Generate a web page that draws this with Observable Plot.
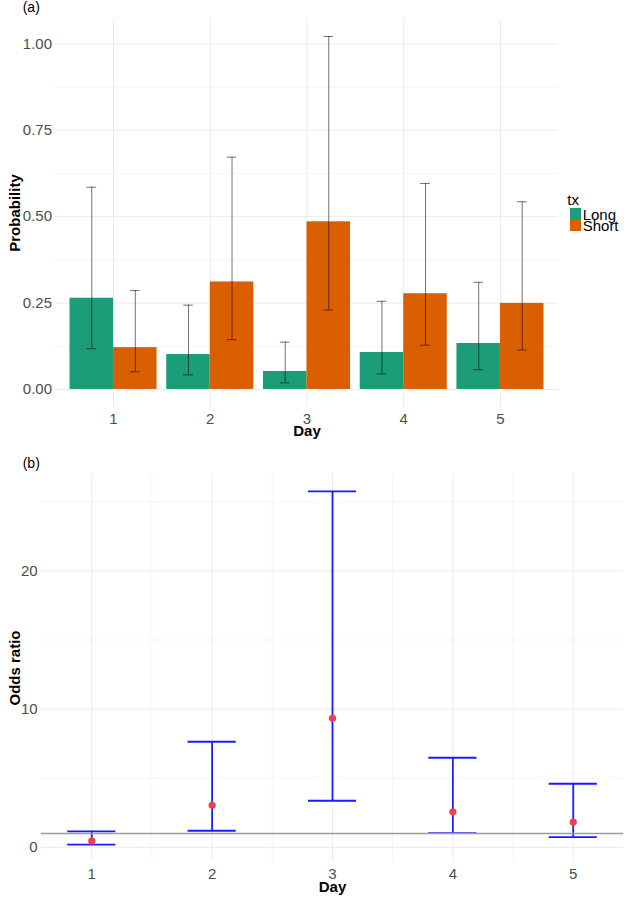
<!DOCTYPE html>
<html>
<head>
<meta charset="utf-8">
<script src="https://cdn.jsdelivr.net/npm/d3@7"></script>
<script src="https://cdn.jsdelivr.net/npm/@observablehq/plot@0.6"></script>
<style>
  body { margin: 0; background: #fff; }
  #wrap { position: relative; width: 629px; height: 900px; font-family: "Liberation Sans", Arial, sans-serif; }
  #wrap svg { position: absolute; left: 0; }
  .lbl { position: absolute; white-space: nowrap; color: #000; }
  .key { position: absolute; width: 11.3px; }
</style>
</head>
<body>
<div id="wrap"></div>
<script>
// ---------- data ----------
const days = [1, 2, 3, 4, 5];
const treatments = ["Long", "Short"];
const treatmentColors = ["#1B9E77", "#D95F02"];

const longProb = [0.264, 0.101, 0.052, 0.107, 0.133];
const longLo   = [0.118, 0.042, 0.019, 0.045, 0.057];
const longHi   = [0.585, 0.244, 0.137, 0.255, 0.310];

const shortProb = [0.121, 0.311, 0.485, 0.277, 0.249];
const shortLo   = [0.051, 0.144, 0.230, 0.128, 0.114];
const shortHi   = [0.286, 0.672, 1.021, 0.596, 0.543];

const oddsRatio = [0.46, 3.04, 9.33, 2.57, 1.83];
const orLo      = [0.20, 1.20, 3.37, 1.03, 0.74];
const orHi      = [1.16, 7.64, 25.75, 6.48, 4.60];
const refLine   = [1];

const probTicks = [0, 0.25, 0.5, 0.75, 1];
const probMinor = [0.125, 0.375, 0.625, 0.875];
const orTicks = [0, 10, 20];
const orMinor = [5, 15, 25];
const dayMinor = [1.5, 2.5, 3.5, 4.5];

// ---------- derived tables ----------
const probRows = days.flatMap((d, i) => [
  {day: d, tx: "Long", p: longProb[i], lo: longLo[i], hi: longHi[i]},
  {day: d, tx: "Short", p: shortProb[i], lo: shortLo[i], hi: shortHi[i]}
]);
const orRows = days.map((d, i) => ({day: d, est: oddsRatio[i], lo: orLo[i], hi: orHi[i]}));

const dodge = {Long: -0.225, Short: 0.225};
const half = 0.225, capA = 0.05, capB = 0.2;
const cx = d => d.day + dodge[d.tx];

const font = '"Liberation Sans", Arial, sans-serif';
const tickFill = "#4d4d4d";
const gridMajor = "#ebebeb", gridMinor = "#f3f3f3";

const wrap = document.getElementById("wrap");

// ---------- panel (a) ----------
const pHi = d3.max(probRows, d => d.hi), pLo = 0;
const pPad = 0.05 * (pHi - pLo);

const plotA = Plot.plot({
  width: 629, height: 445,
  marginLeft: 55, marginRight: 71, marginTop: 18.4, marginBottom: 38.4,
  style: {fontFamily: font, fontSize: "15px", background: "transparent", overflow: "visible"},
  x: {type: "linear", domain: [0.4, 5.6]},
  y: {domain: [pLo - pPad, pHi + pPad]},
  color: {domain: treatments, range: treatmentColors},
  marks: [
    Plot.ruleY(probMinor, {stroke: gridMinor, strokeWidth: 0.8}),
    Plot.ruleY(probTicks, {stroke: gridMajor, strokeWidth: 1}),
    Plot.ruleX(days, {stroke: gridMajor, strokeWidth: 1}),
    Plot.rect(probRows, {x1: d => cx(d) - half, x2: d => cx(d) + half, y1: () => 0, y2: "p", fill: "tx"}),
    Plot.ruleX(probRows, {x: cx, y1: "lo", y2: "hi", stroke: "#000", strokeOpacity: 0.55, strokeWidth: 1}),
    Plot.ruleY(probRows, {y: "hi", x1: d => cx(d) - capA, x2: d => cx(d) + capA, stroke: "#000", strokeOpacity: 0.55, strokeWidth: 1}),
    Plot.ruleY(probRows, {y: "lo", x1: d => cx(d) - capA, x2: d => cx(d) + capA, stroke: "#000", strokeOpacity: 0.55, strokeWidth: 1}),
    Plot.axisX({ticks: days, tickSize: 0, tickPadding: 6, tickFormat: d => String(d), fontSize: 15, fill: tickFill, label: null}),
    Plot.axisY({ticks: probTicks, tickSize: 0, tickPadding: 3.5, tickFormat: d3.format(".2f"), fontSize: 15, fill: tickFill, label: null}),
    Plot.text(["Day"], {frameAnchor: "bottom", lineAnchor: "middle", textAnchor: "middle", dy: 24.5, text: d => d, fontWeight: "bold", fontSize: 15, fill: "#000"}),
    Plot.text(["Probability"], {frameAnchor: "left", lineAnchor: "middle", textAnchor: "middle", rotate: -90, dx: -40, text: d => d, fontWeight: "bold", fontSize: 15, fill: "#000"})
  ]
});
plotA.style.top = "0px";
wrap.appendChild(plotA);

// ---------- panel (b) ----------
const oLo = d3.min(orRows, d => d.lo), oHi = d3.max(orRows, d => d.hi);
const oPad = 0.05 * (oHi - oLo);
const xLo = d3.min(days) - capB, xHi = d3.max(days) + capB;
const xPad = 0.05 * (xHi - xLo);

const plotB = Plot.plot({
  width: 629, height: 455,
  marginLeft: 40.7, marginRight: 5.7, marginTop: 28.3, marginBottom: 38.3,
  style: {fontFamily: font, fontSize: "15px", background: "transparent", overflow: "visible"},
  x: {domain: [xLo - xPad, xHi + xPad]},
  y: {domain: [oLo - oPad, oHi + oPad]},
  marks: [
    Plot.ruleY(orMinor, {stroke: gridMinor, strokeWidth: 0.8}),
    Plot.ruleX(dayMinor, {stroke: gridMinor, strokeWidth: 0.8}),
    Plot.ruleY(orTicks, {stroke: gridMajor, strokeWidth: 1}),
    Plot.ruleX(days, {stroke: gridMajor, strokeWidth: 1}),
    Plot.ruleX(orRows, {x: "day", y1: "lo", y2: "hi", stroke: "#1a1aff", strokeWidth: 1.8}),
    Plot.ruleY(orRows, {y: "hi", x1: d => d.day - capB, x2: d => d.day + capB, stroke: "#1a1aff", strokeWidth: 1.8}),
    Plot.ruleY(orRows, {y: "lo", x1: d => d.day - capB, x2: d => d.day + capB, stroke: "#1a1aff", strokeWidth: 1.8}),
    Plot.ruleY(refLine, {stroke: "#9c9c9c", strokeWidth: 1.6}),
    Plot.dot(orRows, {x: "day", y: "est", r: 3.6, fill: "#ee3f50", stroke: "none"}),
    Plot.axisX({ticks: days, tickSize: 0, tickPadding: 6, tickFormat: d => String(d), fontSize: 15, fill: tickFill, label: null}),
    Plot.axisY({ticks: orTicks, tickSize: 0, tickPadding: 3.5, tickFormat: d => String(d), fontSize: 15, fill: tickFill, label: null}),
    Plot.text(["Day"], {frameAnchor: "bottom", lineAnchor: "middle", textAnchor: "middle", dy: 25, text: d => d, fontWeight: "bold", fontSize: 15, fill: "#000"}),
    Plot.text(["Odds ratio"], {frameAnchor: "left", lineAnchor: "middle", textAnchor: "middle", rotate: -90, dx: -26.2, text: d => d, fontWeight: "bold", fontSize: 15, fill: "#000"})
  ]
});
plotB.style.top = "445px";
wrap.appendChild(plotB);

// ---------- panel tags and legend (HTML) ----------
// place text so that its baseline sits at `baseline` px (line box of height lh)
function label(text, left, baseline, size, lh) {
  const el = document.createElement("div");
  el.className = "lbl";
  el.textContent = text;
  el.style.left = left + "px";
  el.style.fontSize = size + "px";
  el.style.lineHeight = lh + "px";
  const off = lh / 2 + size * (0.905 - 1.117 / 2);
  el.style.top = (baseline - off) + "px";
  wrap.appendChild(el);
}
label("(a)", 22.7, 11.7, 14, 14);
label("(b)", 22.7, 468.3, 14, 14);
label("tx", 567.3, 205, 15, 11);
treatments.forEach((t, i) => {
  const k = document.createElement("div");
  k.className = "key";
  k.style.left = "570px";
  k.style.top = (208.3 + i * 11.3) + "px";
  k.style.height = "11.3px";
  k.style.background = treatmentColors[i];
  wrap.appendChild(k);
  label(t, 582.7, 220 + i * 11, 15, 11);
});
</script>
</body>
</html>
